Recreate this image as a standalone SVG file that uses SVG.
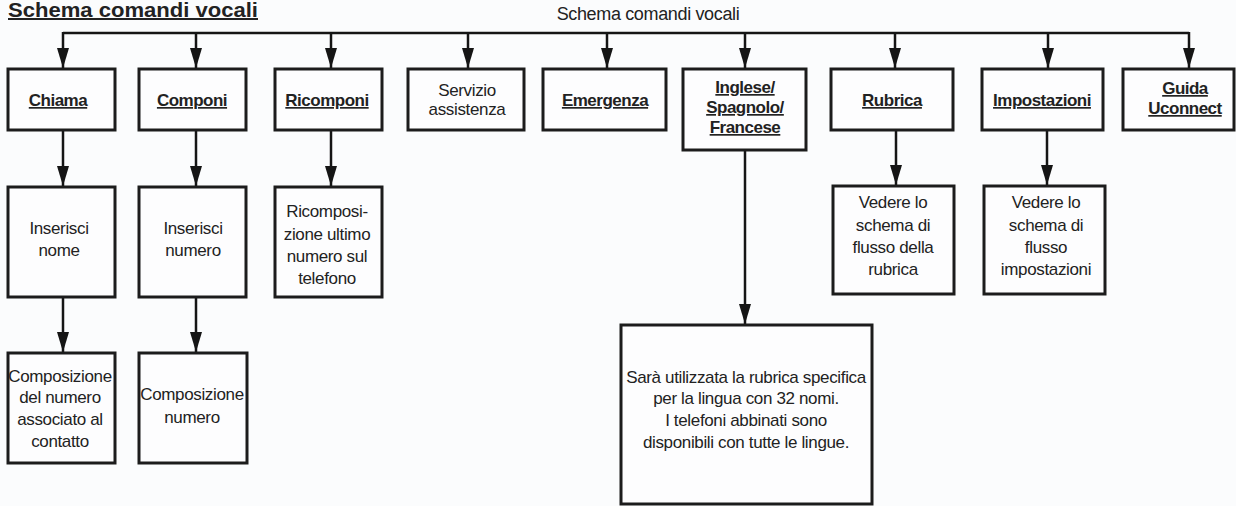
<svg xmlns="http://www.w3.org/2000/svg" width="1236" height="506" viewBox="0 0 1236 506">
  <style>
    .bg { fill: #fbfcfd; }
    .box { fill: #fdfdfe; stroke: #1c1c1c; stroke-width: 3; }
    .wire { fill: none; stroke: #151515; stroke-width: 2.5; }
    text { font-family: "Liberation Sans", Arial, sans-serif; fill: #222; }
    .lbl { font-size: 17px; letter-spacing: -0.35px; text-anchor: middle; }
    .hd { font-size: 17px; font-weight: bold; letter-spacing: -0.5px; text-anchor: middle; text-decoration: underline; text-decoration-thickness: 2px; text-underline-offset: 2px; }
    .title { font-size: 20px; font-weight: bold; text-decoration: underline; text-decoration-thickness: 2px; text-underline-offset: 3px; }
    .root { font-size: 18px; letter-spacing: -0.35px; text-anchor: middle; }
  </style>
  <defs>
    <marker id="ah" viewBox="0 0 20 12" refX="20" refY="6" markerWidth="20" markerHeight="12" markerUnits="userSpaceOnUse" orient="auto">
      <path d="M0,0 L20,6 L0,12 Z" fill="#151515"/>
    </marker>
  </defs>

  <rect class="bg" x="0" y="0" width="1236" height="506"/>

  <text class="title" x="8" y="17" textLength="250" lengthAdjust="spacingAndGlyphs">Schema comandi vocali</text>
  <text class="root" x="648" y="20">Schema comandi vocali</text>

  <!-- connectors -->
  <g id="connectors">
    <path class="wire" d="M63,33 H1189"/>
    <path class="wire" d="M63,32 V68" marker-end="url(#ah)"/>
    <path class="wire" d="M196,33 V68" marker-end="url(#ah)"/>
    <path class="wire" d="M331,33 V68" marker-end="url(#ah)"/>
    <path class="wire" d="M468,33 V68" marker-end="url(#ah)"/>
    <path class="wire" d="M607,33 V68" marker-end="url(#ah)"/>
    <path class="wire" d="M745,33 V68" marker-end="url(#ah)"/>
    <path class="wire" d="M895,33 V68" marker-end="url(#ah)"/>
    <path class="wire" d="M1048,33 V68" marker-end="url(#ah)"/>
    <path class="wire" d="M1189,32 V68" marker-end="url(#ah)"/>

    <path class="wire" d="M63,131 V186" marker-end="url(#ah)"/>
    <path class="wire" d="M196,131 V186" marker-end="url(#ah)"/>
    <path class="wire" d="M331,131 V186" marker-end="url(#ah)"/>
    <path class="wire" d="M896,131 V185" marker-end="url(#ah)"/>
    <path class="wire" d="M1047,131 V185" marker-end="url(#ah)"/>
    <path class="wire" d="M745,151 V324" marker-end="url(#ah)"/>

    <path class="wire" d="M63,298 V352" marker-end="url(#ah)"/>
    <path class="wire" d="M196,298 V352" marker-end="url(#ah)"/>
  </g>

  <!-- first level -->
  <g id="chiama">
    <rect class="box" x="8" y="69" width="107" height="61"/>
    <text class="hd" x="58" y="106">Chiama</text>
  </g>
  <g id="componi">
    <rect class="box" x="139" y="69" width="107" height="61"/>
    <text class="hd" x="192" y="106">Componi</text>
  </g>
  <g id="ricomponi">
    <rect class="box" x="275" y="69" width="107" height="61"/>
    <text class="hd" x="327" y="106">Ricomponi</text>
  </g>
  <g id="servizio">
    <rect class="box" x="408" y="69" width="116" height="61"/>
    <text class="lbl" x="467" y="96">Servizio</text>
    <text class="lbl" x="467" y="115">assistenza</text>
  </g>
  <g id="emergenza">
    <rect class="box" x="543" y="69" width="123" height="61"/>
    <text class="hd" x="605" y="106">Emergenza</text>
  </g>
  <g id="lingue">
    <rect class="box" x="683" y="69" width="123" height="81"/>
    <text class="hd" x="745" y="93">Inglese/</text>
    <text class="hd" x="745" y="113">Spagnolo/</text>
    <text class="hd" x="745" y="133">Francese</text>
  </g>
  <g id="rubrica">
    <rect class="box" x="831" y="69" width="122" height="61"/>
    <text class="hd" x="892" y="106">Rubrica</text>
  </g>
  <g id="impostazioni">
    <rect class="box" x="982" y="69" width="121" height="61"/>
    <text class="hd" x="1042" y="106">Impostazioni</text>
  </g>
  <g id="guida">
    <rect class="box" x="1123" y="69" width="111" height="61"/>
    <text class="hd" x="1185" y="94">Guida</text>
    <text class="hd" x="1185" y="114">Uconnect</text>
  </g>

  <!-- second level -->
  <g id="inserisci-nome">
    <rect class="box" x="8" y="187" width="107" height="110"/>
    <text class="lbl" x="59" y="234">Inserisci</text>
    <text class="lbl" x="59" y="256">nome</text>
  </g>
  <g id="inserisci-numero">
    <rect class="box" x="139" y="187" width="107" height="110"/>
    <text class="lbl" x="193" y="234">Inserisci</text>
    <text class="lbl" x="193" y="256">numero</text>
  </g>
  <g id="ricomposizione">
    <rect class="box" x="275" y="187" width="107" height="110"/>
    <text class="lbl" x="327" y="217">Ricomposi-</text>
    <text class="lbl" x="327" y="240">zione ultimo</text>
    <text class="lbl" x="327" y="262">numero sul</text>
    <text class="lbl" x="327" y="284">telefono</text>
  </g>
  <g id="flusso-rubrica">
    <rect class="box" x="833" y="186" width="121" height="108"/>
    <text class="lbl" x="893" y="208">Vedere lo</text>
    <text class="lbl" x="893" y="231">schema di</text>
    <text class="lbl" x="893" y="253">flusso della</text>
    <text class="lbl" x="893" y="275">rubrica</text>
  </g>
  <g id="flusso-impostazioni">
    <rect class="box" x="984" y="186" width="121" height="108"/>
    <text class="lbl" x="1046" y="208">Vedere lo</text>
    <text class="lbl" x="1046" y="231">schema di</text>
    <text class="lbl" x="1046" y="253">flusso</text>
    <text class="lbl" x="1046" y="275">impostazioni</text>
  </g>

  <!-- third level -->
  <g id="composizione-contatto">
    <rect class="box" x="8" y="353" width="107" height="110"/>
    <text class="lbl" x="60" y="382">Composizione</text>
    <text class="lbl" x="60" y="403">del numero</text>
    <text class="lbl" x="60" y="425">associato al</text>
    <text class="lbl" x="60" y="447">contatto</text>
  </g>
  <g id="composizione-numero">
    <rect class="box" x="139" y="353" width="108" height="110"/>
    <text class="lbl" x="192" y="400">Composizione</text>
    <text class="lbl" x="192" y="423">numero</text>
  </g>
  <g id="rubrica-lingua">
    <rect class="box" x="621" y="325" width="251" height="179"/>
    <text class="lbl" x="746" y="383">Sarà utilizzata la rubrica specifica</text>
    <text class="lbl" x="746" y="404">per la lingua con 32 nomi.</text>
    <text class="lbl" x="746" y="426">I telefoni abbinati sono</text>
    <text class="lbl" x="746" y="448">disponibili con tutte le lingue.</text>
  </g>
</svg>
